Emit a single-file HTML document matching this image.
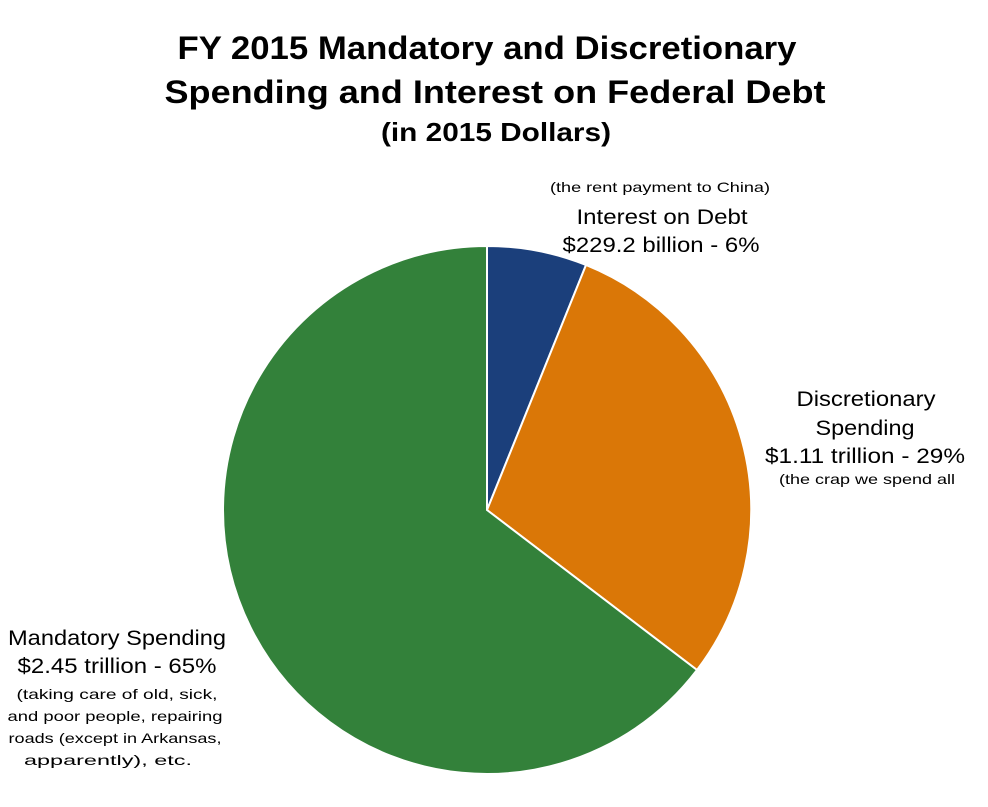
<!DOCTYPE html>
<html><head><meta charset="utf-8"><style>
html,body{margin:0;padding:0;background:#fff;}
svg{display:block;}
text{font-family:"Liberation Sans",Arial,sans-serif;fill:#000;}
</style></head><body>
<svg width="988" height="807" viewBox="0 0 988 807" xmlns="http://www.w3.org/2000/svg">
<rect width="988" height="807" fill="#fff"/>
<text x="487" y="59" font-size="32" font-weight="bold" text-anchor="middle" textLength="619" lengthAdjust="spacingAndGlyphs">FY 2015 Mandatory and Discretionary</text>
<text x="495" y="103" font-size="32" font-weight="bold" text-anchor="middle" textLength="661" lengthAdjust="spacingAndGlyphs">Spending and Interest on Federal Debt</text>
<text x="496" y="141" font-size="26" font-weight="bold" text-anchor="middle" textLength="230" lengthAdjust="spacingAndGlyphs">(in 2015 Dollars)</text>
<g stroke="#fff" stroke-width="2">
<path d="M487,510 L487,246 A264,264 0 0 1 586,265 Z" fill="#1b3f7b"/>
<path d="M487,510 L586,265 A264,264 0 0 1 697,670 Z" fill="#da7707"/>
<path d="M487,510 L697,670 A264,264 0 1 1 487,246 Z" fill="#33813a"/>
</g>
<text x="660" y="192" font-size="14" text-anchor="middle" textLength="220" lengthAdjust="spacingAndGlyphs">(the rent payment to China)</text>
<text x="662" y="224" font-size="21" text-anchor="middle" textLength="171" lengthAdjust="spacingAndGlyphs">Interest on Debt</text>
<text x="661" y="252" font-size="21" text-anchor="middle" textLength="197" lengthAdjust="spacingAndGlyphs">$229.2 billion - 6%</text>
<text x="866" y="406" font-size="21" text-anchor="middle" textLength="139" lengthAdjust="spacingAndGlyphs">Discretionary</text>
<text x="865" y="435" font-size="21" text-anchor="middle" textLength="99" lengthAdjust="spacingAndGlyphs">Spending</text>
<text x="865" y="463" font-size="21" text-anchor="middle" textLength="200" lengthAdjust="spacingAndGlyphs">$1.11 trillion - 29%</text>
<text x="867" y="484" font-size="14" text-anchor="middle" textLength="176" lengthAdjust="spacingAndGlyphs">(the crap we spend all</text>
<text x="117" y="645" font-size="21" text-anchor="middle" textLength="218" lengthAdjust="spacingAndGlyphs">Mandatory Spending</text>
<text x="117" y="673" font-size="21" text-anchor="middle" textLength="199" lengthAdjust="spacingAndGlyphs">$2.45 trillion - 65%</text>
<text x="117" y="699" font-size="14" text-anchor="middle" textLength="201" lengthAdjust="spacingAndGlyphs">(taking care of old, sick,</text>
<text x="115" y="721" font-size="14" text-anchor="middle" textLength="215" lengthAdjust="spacingAndGlyphs">and poor people, repairing</text>
<text x="115" y="743" font-size="14" text-anchor="middle" textLength="213" lengthAdjust="spacingAndGlyphs">roads (except in Arkansas,</text>
<text x="108" y="765" font-size="14" text-anchor="middle" textLength="168" lengthAdjust="spacingAndGlyphs">apparently), etc.</text>
</svg>
</body></html>
